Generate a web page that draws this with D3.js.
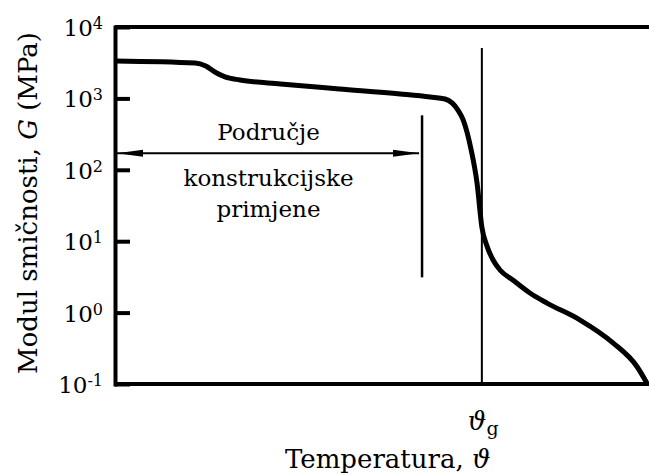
<!DOCTYPE html>
<html>
<head>
<meta charset="utf-8">
<script src="https://cdn.jsdelivr.net/npm/d3@7"></script>
<style>
body { margin: 0; background: #fff; }
</style>
</head>
<body>
<div id="chart"></div>
<script>
// temperature has no numbers on the axis, so it runs 0..100 across the plot
var temperature = [0, 15, 17, 18.7, 20.6, 23.4, 31, 42, 53.4, 59, 61.8, 64.2, 65.2, 66.7, 67.8, 68.7, 69.7, 70.8, 72.1, 74.5, 77.7, 80.9, 87.1, 93.3, 97.8, 99.6]
var modulus = [3340, 3130, 2840, 2340, 2000, 1810, 1590, 1355, 1153, 1047, 982, 689, 499, 189, 65, 15.8, 8.4, 5.46, 3.95, 2.86, 1.88, 1.36, 0.787, 0.375, 0.173, 0.103]
var tickValues = [0.1, 1, 10, 100, 1000, 10000]
var tickExponents = ["-1", "0", "1", "2", "3", "4"]
var glassTransition = 68.7
var regionEnd = 57.5
var regionLabel = ["Područje", "konstrukcijske", "primjene"]

const width = 649, height = 475
const margin = {top: 27, right: 0, bottom: 91, left: 115}
const serif = "'DejaVu Serif', serif"

var x = d3.scaleLinear().domain([0, 100]).range([margin.left, width - margin.right])
var y = d3.scaleLog().domain([0.1, 10000]).range([height - margin.bottom, margin.top])

var svg = d3.select("#chart").append("svg").attr("width", width).attr("height", height)
    .style("font-family", serif)

// arrow heads for the "Područje" span
var defs = svg.append("defs")
defs.append("marker").attr("id", "head").attr("markerUnits", "userSpaceOnUse")
    .attr("viewBox", "0 -5 26 10").attr("refX", 26).attr("refY", 0)
    .attr("markerWidth", 26).attr("markerHeight", 10).attr("orient", "auto-start-reverse")
    .append("path").attr("d", "M0,-3.5L26,0L0,3.5Z").attr("fill", "#000")

// box: top and bottom lines run off the right edge
svg.append("line").attr("x1", x(0)).attr("x2", x(100)).attr("y1", y(10000)).attr("y2", y(10000))
    .attr("stroke", "#000").attr("stroke-width", 4)
svg.append("line").attr("x1", x(0)).attr("x2", x(100)).attr("y1", y(0.1)).attr("y2", y(0.1))
    .attr("stroke", "#000").attr("stroke-width", 4)

var yAxis = svg.append("g").attr("transform", "translate(" + x(0) + ",0)")
    .call(d3.axisLeft(y).tickValues(tickValues).tickSizeInner(-15).tickSizeOuter(0).tickFormat(""))
yAxis.select(".domain").attr("stroke", "#000").attr("stroke-width", 4).attr("stroke-linecap", "square")
yAxis.selectAll(".tick line").attr("stroke", "#000").attr("stroke-width", 4)

// tick labels as 10 with superscript
tickValues.forEach(function (v, i) {
    var t = svg.append("text").attr("x", 103).attr("y", y(v) + 9).attr("text-anchor", "end")
        .style("font-family", serif).style("font-size", "23px")
    t.append("tspan").text("10")
    t.append("tspan").attr("dy", -7).style("font-size", "16px").text(tickExponents[i])
})

// glass transition line
svg.append("line").attr("x1", x(glassTransition)).attr("x2", x(glassTransition))
    .attr("y1", y(10000) + 21).attr("y2", y(0.1)).attr("stroke", "#000").attr("stroke-width", 2)

// end of the usable region
var arrowY = y(170)
svg.append("line").attr("x1", x(regionEnd)).attr("x2", x(regionEnd))
    .attr("y1", arrowY - 38).attr("y2", arrowY + 124).attr("stroke", "#000").attr("stroke-width", 2.5)
svg.append("line").attr("x1", x(0) + 2).attr("x2", x(regionEnd) - 3).attr("y1", arrowY).attr("y2", arrowY)
    .attr("stroke", "#000").attr("stroke-width", 2)
    .attr("marker-start", "url(#head)").attr("marker-end", "url(#head)")

var cx = (x(0) + x(regionEnd)) / 2
var offsets = [-13, 33, 64]
regionLabel.forEach(function (d, i) {
    svg.append("text").attr("x", cx).attr("y", arrowY + offsets[i]).attr("text-anchor", "middle")
        .style("font-family", serif).style("font-size", "23px").text(d)
})

// modulus curve
var line = d3.line().x((d, i) => x(temperature[i])).y(d => y(d)).curve(d3.curveMonotoneX)
svg.append("path").datum(modulus).attr("d", line).attr("fill", "none")
    .attr("stroke", "#000").attr("stroke-width", 5).attr("stroke-linejoin", "round")

// axis titles
var yl = svg.append("text").attr("transform", "translate(37,203) rotate(-90)").attr("text-anchor", "middle")
    .style("font-family", serif).style("font-size", "26px")
yl.append("tspan").text("Modul smičnosti, ")
yl.append("tspan").style("font-style", "italic").text("G")
yl.append("tspan").text(" (MPa)")

var tg = svg.append("text").attr("x", x(glassTransition) - 14).attr("y", 430)
    .style("font-family", serif).style("font-size", "26px")
tg.append("tspan").style("font-style", "italic").text("ϑ")
tg.append("tspan").attr("dy", 5).style("font-size", "19px").text("g")

var xl = svg.append("text").attr("x", 285).attr("y", 468).style("font-family", serif).style("font-size", "26px")
xl.append("tspan").text("Temperatura, ")
xl.append("tspan").style("font-style", "italic").text("ϑ")
</script>
</body>
</html>
